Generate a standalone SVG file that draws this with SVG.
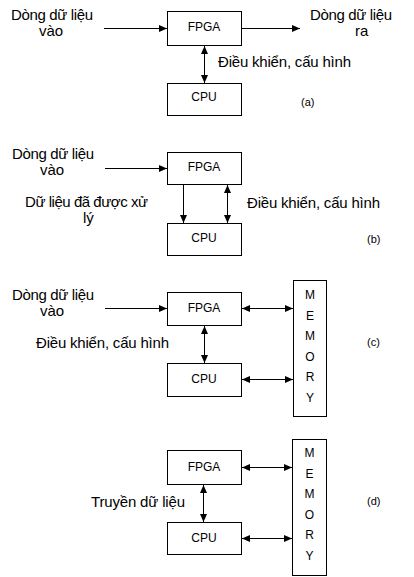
<svg xmlns="http://www.w3.org/2000/svg" width="414" height="577" viewBox="0 0 414 577">
<style>
.bg{fill:#fff}
.box{fill:#fff;stroke:#000;stroke-width:1}
.lbl{font-family:"Liberation Sans",Arial,sans-serif;font-size:15px;fill:#000}
.bl{font-family:"Liberation Sans",Arial,sans-serif;font-size:12px;fill:#000;text-anchor:middle}
.tag{font-family:"Liberation Sans",Arial,sans-serif;font-size:11px;fill:#000}
.ln{stroke:#000;stroke-width:1;fill:none;marker-end:url(#ah)}
.dbl{marker-start:url(#ah)}
</style>
<defs>
<marker id="ah" markerWidth="8" markerHeight="7" refX="8" refY="3.5" orient="auto-start-reverse" markerUnits="userSpaceOnUse">
<path d="M0,0 L8,3.5 L0,7 z" fill="#000"/>
</marker>
</defs>
<rect class="bg" x="0" y="0" width="414" height="577"/>

<!-- (a) -->
<g id="a-fpga"><rect class="box" x="167.5" y="11.5" width="74" height="34"/><text class="bl" x="204" y="31">FPGA</text></g>
<g id="a-cpu"><rect class="box" x="167.5" y="83.5" width="74" height="32"/><text class="bl" x="204" y="101">CPU</text></g>
<g id="a-in"><text class="lbl" x="11" y="20" textLength="82">Dòng dữ liệu</text><text class="lbl" x="39" y="36">vào</text></g>
<g id="a-out"><text class="lbl" x="310" y="20" textLength="82">Dòng dữ liệu</text><text class="lbl" x="355" y="36">ra</text></g>
<g id="a-ctrl"><text class="lbl" x="218" y="67" textLength="133">Điều khiển, cấu hình</text></g>
<g id="a-tag"><text class="tag" x="301" y="106">(a)</text></g>

<!-- (b) -->
<g id="b-fpga"><rect class="box" x="167.5" y="152.5" width="74" height="32"/><text class="bl" x="204" y="171">FPGA</text></g>
<g id="b-cpu"><rect class="box" x="167.5" y="223.5" width="74" height="32"/><text class="bl" x="204" y="242">CPU</text></g>
<g id="b-in"><text class="lbl" x="12" y="159" textLength="82">Dòng dữ liệu</text><text class="lbl" x="40" y="175">vào</text></g>
<g id="b-data"><text class="lbl" x="25" y="207" textLength="123">Dữ liệu đã được xử</text><text class="lbl" x="83" y="223">lý</text></g>
<g id="b-ctrl"><text class="lbl" x="247" y="208" textLength="133">Điều khiển, cấu hình</text></g>
<g id="b-tag"><text class="tag" x="367" y="243">(b)</text></g>

<!-- (c) -->
<g id="c-fpga"><rect class="box" x="167.5" y="292.5" width="74" height="33"/><text class="bl" x="204" y="312">FPGA</text></g>
<g id="c-cpu"><rect class="box" x="167.5" y="363.5" width="74" height="33"/><text class="bl" x="204" y="383">CPU</text></g>
<g id="c-mem"><rect class="box" x="293.5" y="280.5" width="33" height="136"/>
<text class="bl" x="310" y="299">M</text><text class="bl" x="310" y="320">E</text><text class="bl" x="310" y="340">M</text><text class="bl" x="310" y="361">O</text><text class="bl" x="310" y="381">R</text><text class="bl" x="310" y="402">Y</text></g>
<g id="c-in"><text class="lbl" x="12" y="300" textLength="82">Dòng dữ liệu</text><text class="lbl" x="40" y="316">vào</text></g>
<g id="c-ctrl"><text class="lbl" x="36" y="348" textLength="133">Điều khiển, cấu hình</text></g>
<g id="c-tag"><text class="tag" x="367" y="346">(c)</text></g>

<!-- (d) -->
<g id="d-fpga"><rect class="box" x="167.5" y="450.5" width="74" height="34"/><text class="bl" x="204" y="471">FPGA</text></g>
<g id="d-cpu"><rect class="box" x="167.5" y="522.5" width="74" height="32"/><text class="bl" x="204" y="542">CPU</text></g>
<g id="d-mem"><rect class="box" x="292.5" y="439.5" width="34" height="136"/>
<text class="bl" x="309.5" y="457">M</text><text class="bl" x="309.5" y="478">E</text><text class="bl" x="309.5" y="498">M</text><text class="bl" x="309.5" y="519">O</text><text class="bl" x="309.5" y="539">R</text><text class="bl" x="309.5" y="560">Y</text></g>
<g id="d-data"><text class="lbl" x="91" y="507" textLength="94">Truyền dữ liệu</text></g>
<g id="d-tag"><text class="tag" x="367" y="505">(d)</text></g>

<g id="connectors">
<path class="ln" d="M104,28.5 H167"/>
<path class="ln" d="M242,28.5 H300"/>
<path class="ln dbl" d="M204.5,46 V83"/>

<path class="ln" d="M105,168.5 H167"/>
<path class="ln" d="M183.5,185 V223"/>
<path class="ln dbl" d="M227.5,185 V223"/>

<path class="ln" d="M105,308.5 H167"/>
<path class="ln dbl" d="M204.5,326 V363"/>
<path class="ln dbl" d="M242,308.5 H293"/>
<path class="ln dbl" d="M242,379.5 H293"/>

<path class="ln dbl" d="M203.5,485 V522"/>
<path class="ln dbl" d="M242,467.5 H292"/>
<path class="ln dbl" d="M242,538.5 H292"/>
</g>
</svg>
